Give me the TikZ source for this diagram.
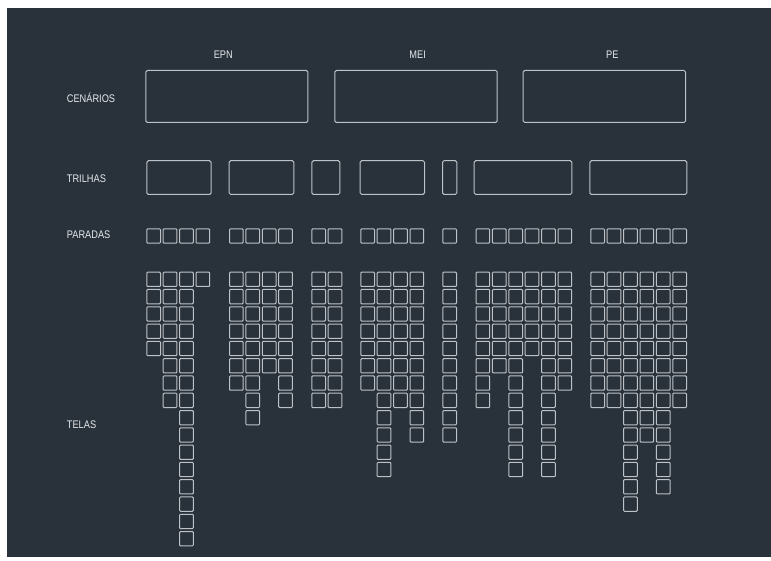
\documentclass[tikz,border=0pt]{standalone}
\usepackage{fontspec}
\setmainfont[FakeStretch=0.84]{Liberation Sans}
\definecolor{bgdark}{HTML}{29323B}
\definecolor{lineg}{HTML}{BEC2C6}
\definecolor{txtw}{HTML}{E8EAEC}
\tikzset{
  box/.style={draw=lineg, line width=1pt, rounded corners=1.5pt, inner sep=0pt},
  sq/.style={box, rounded corners=0.9pt, minimum width=13.7pt, minimum height=14.3pt},
  lbl/.style={text=txtw, font=\fontsize{11}{13}\selectfont, inner sep=0pt},
}
\begin{document}
\begin{tikzpicture}[x=1pt,y=-1pt]
\useasboundingbox (0,0) rectangle (771,561);
\fill[bgdark] (7,8) rectangle (771,557);
% headers
\node[lbl] (hEPN) at (223.3,55) {EPN};
\node[lbl] (hMEI) at (417.7,55) {MEI};
\node[lbl] (hPE) at (612.3,55) {PE};
% row labels
\node[lbl, anchor=west] (lCen) at (66.7,97.3) {CENÁRIOS};
\node[lbl, anchor=west] (lTri) at (66.7,178.7) {TRILHAS};
\node[lbl, anchor=west] (lPar) at (66.7,235) {PARADAS};
\node[lbl, anchor=west] (lTel) at (66.7,424.3) {TELAS};
% cenarios
\foreach \a/\b [count=\i] in {145.3/308.3, 334.3/497.7, 522.7/686}{
  \node[box, minimum width={\b-\a-1}, minimum height=52pt] (cen\i) at ({(\a+\b)/2},96.5) {};
}
% trilhas
\foreach \a/\b [count=\i] in {146.3/211.7, 228.7/294.3, 311.3/340.3, 359.7/425, 442/457.3, 473.7/572.3, 589.3/687.3}{
  \node[box, minimum width={\b-\a-1}, minimum height=33.7pt] (tri\i) at ({(\a+\b)/2},177.6) {};
}
% paradas and telas
\foreach \x/\n [count=\i] in {146.3/5, 162.7/8, 179.1/16, 195.5/1,
  229/7, 245.4/9, 261.8/6, 278.2/8,
  311.3/8, 327.7/8,
  360.3/7, 376.7/12, 393.1/8, 409.5/10,
  442.3/10,
  475.5/8, 491.9/6, 508.3/12, 524.7/5, 541.1/12, 557.5/7,
  590.3/8, 606.7/8, 623.1/14, 639.5/10, 655.9/13, 672.3/8}{
  \node[sq] (par\i) at (\x+7.35,236) {};
  \foreach \r in {1,...,\n}{
    \node[sq] (tel\i-\r) at ({\x+7.35},{271.7+(\r-1)*17.29+7.65}) {};
  }
}
\end{tikzpicture}
\end{document}
